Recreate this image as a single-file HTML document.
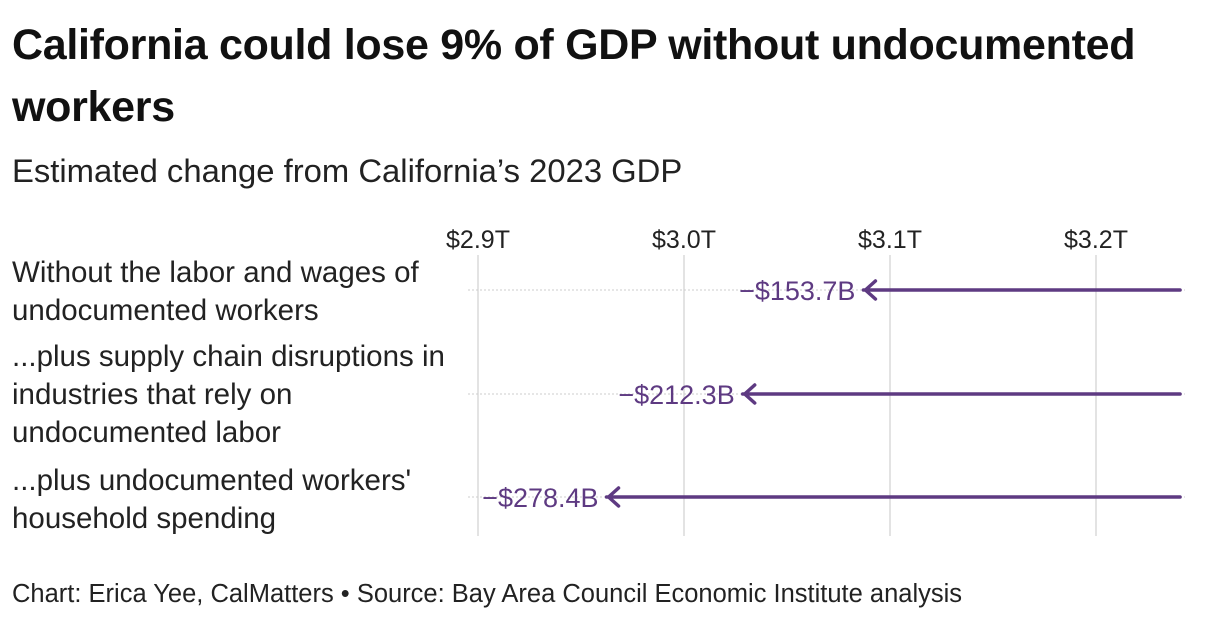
<!DOCTYPE html>
<html><head><meta charset="utf-8"><style>
body{margin:0;width:1220px;height:626px;background:#fff;font-family:"Liberation Sans",sans-serif;color:#111;overflow:hidden;position:relative}
#title{position:absolute;left:12px;top:14px;font-size:43px;font-weight:bold;line-height:62px;width:1200px;letter-spacing:-0.3px}
#sub{position:absolute;left:12px;top:152px;font-size:32.8px;color:#222}
.lab{position:absolute;left:12px;font-size:29.5px;line-height:38px;color:#222}
#foot{position:absolute;left:12px;top:580px;font-size:25.5px;color:#222}
svg{position:absolute;left:0;top:0}
</style></head><body>
<div id="title">California could lose 9% of GDP without undocumented workers</div>
<div id="sub">Estimated change from California’s 2023 GDP</div>
<div class="lab" style="top:254px">Without the labor and wages of<br>undocumented workers</div>
<div class="lab" style="top:338px">...plus supply chain disruptions in<br>industries that rely on<br>undocumented labor</div>
<div class="lab" style="top:462px">...plus undocumented workers'<br>household spending</div>
<div id="foot">Chart: Erica Yee, CalMatters • Source: Bay Area Council Economic Institute analysis</div>
<svg id="chart" width="1220" height="626"></svg>
<script>
const tickValues=[2.9,3.0,3.1,3.2];
const tickLabels=["$2.9T","$3.0T","$3.1T","$3.2T"];
const baseGDP=3.2408;
const losses=[153.7,212.3,278.4];
const lossLabels=["−$153.7B","−$212.3B","−$278.4B"];
const rowY=[290,394,497];
const x=v=>478+(v-2.9)*2060;
const svg=document.getElementById('chart');
const NS='http://www.w3.org/2000/svg';
function mk(t,a){const e=document.createElementNS(NS,t);for(const k in a)e.setAttribute(k,a[k]);svg.appendChild(e);return e;}
tickValues.forEach((v,i)=>{
 const g=mk('line',{x1:x(v),x2:x(v),y1:255,y2:536,stroke:'#e3e3e3','stroke-width':2});
 
 
 const t=mk('text',{x:x(v),y:248,'text-anchor':'middle','font-size':25,fill:'#222','font-family':'Liberation Sans, sans-serif'});
 t.textContent=tickLabels[i];
 
 
});
losses.forEach((l,i)=>{
 const y=rowY[i];
 const d=mk('line',{x1:468,x2:1185,y1:y,y2:y,stroke:'#ccc','stroke-width':1,'stroke-dasharray':'2,2'});
 
 
 const ex=x(baseGDP-l/1000);
 const a=mk('path',{d:`M${x(baseGDP)},${y}H${ex} M${ex+12},${y-9}L${ex+2},${y}L${ex+12},${y+9}`,stroke:'#5e3a82','stroke-width':3.5,fill:'none','stroke-linecap':'round','stroke-linejoin':'round'});
 
 
 const t=mk('text',{x:ex-8,y:y+10,'text-anchor':'end','font-size':27,fill:'#5e3a82','font-family':'Liberation Sans, sans-serif'});
 t.textContent=lossLabels[i];
 
 
});
</script>
</body></html>
